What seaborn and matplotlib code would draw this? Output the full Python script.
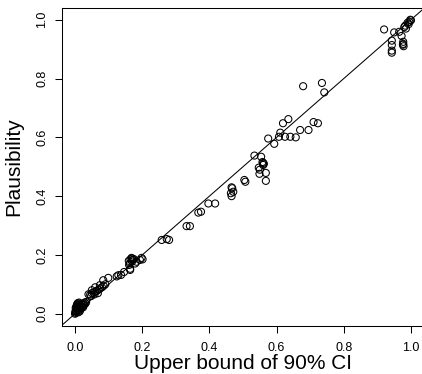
import matplotlib
matplotlib.use("Agg")
import matplotlib.pyplot as plt
import seaborn as sns
import pandas as pd

# Upper bound of 90% CI (x) and Plausibility (y)
upper_bound = [
    # dense cluster near zero
    0.000, 0.002, 0.004, 0.005, 0.006, 0.008, 0.010, 0.012, 0.003, 0.005,
    0.007, 0.009, 0.011, 0.013, 0.015, 0.017, 0.019, 0.021, 0.023, 0.025,
    0.027, 0.029, 0.031, 0.033, 0.002, 0.004, 0.006, 0.010, 0.014, 0.001,
    0.016, 0.020, 0.024, 0.008, 0.012,
    # low range
    0.040, 0.045, 0.050, 0.055, 0.060, 0.065, 0.070, 0.075, 0.080, 0.085,
    0.090, 0.050, 0.060, 0.074, 0.048, 0.058, 0.068,
    0.084, 0.099, 0.124, 0.129, 0.146, 0.137, 0.164, 0.164,
    0.160, 0.165, 0.168, 0.170, 0.172, 0.163, 0.161, 0.170, 0.175,
    0.183, 0.179, 0.193, 0.201, 0.198,
    0.258, 0.273, 0.280,
    0.332, 0.342,
    0.367, 0.375,
    0.397, 0.417,
    0.466, 0.471, 0.464, 0.466, 0.468,
    0.504, 0.507,
    0.534, 0.554,
    0.560, 0.560, 0.562, 0.558,
    0.547, 0.550,
    0.549, 0.568, 0.568,
    0.575, 0.593,
    0.607, 0.625, 0.641, 0.657,
    0.611, 0.619, 0.635,
    0.670, 0.695,
    0.710, 0.723,
    0.679, 0.735, 0.742,
    # upper range
    0.920, 0.950, 0.943, 0.943, 0.943, 0.943,
    0.965, 0.972, 0.977, 0.977, 0.978, 0.976,
    0.980, 0.983, 0.985, 0.990, 0.995, 1.000, 0.998, 0.993,
]

plausibility = [
    0.000, 0.003, 0.006, 0.010, 0.015, 0.020, 0.025, 0.030, 0.012, 0.020,
    0.028, 0.032, 0.012, 0.018, 0.022, 0.028, 0.033, 0.025, 0.030, 0.035,
    0.030, 0.038, 0.035, 0.040, 0.020, 0.025, 0.032, 0.005, 0.008, 0.008,
    0.015, 0.020, 0.022, 0.036, 0.038,
    0.066, 0.065, 0.070, 0.072, 0.075, 0.078, 0.082, 0.086, 0.090, 0.095,
    0.100, 0.080, 0.090, 0.097, 0.060, 0.066, 0.070,
    0.114, 0.122, 0.127, 0.131, 0.142, 0.132, 0.153, 0.149,
    0.180, 0.185, 0.190, 0.178, 0.183, 0.171, 0.166, 0.188, 0.186,
    0.177, 0.171, 0.183, 0.185, 0.190,
    0.251, 0.254, 0.251,
    0.298, 0.298,
    0.344, 0.347,
    0.375, 0.375,
    0.430, 0.415, 0.410, 0.400, 0.427,
    0.455, 0.449,
    0.538, 0.534,
    0.513, 0.506, 0.510, 0.516,
    0.497, 0.490,
    0.476, 0.479, 0.452,
    0.596, 0.578,
    0.602, 0.602, 0.602, 0.600,
    0.616, 0.648, 0.662,
    0.625, 0.625,
    0.652, 0.648,
    0.774, 0.785, 0.753,
    0.967, 0.957, 0.929, 0.914, 0.895, 0.888,
    0.959, 0.945, 0.925, 0.918, 0.910, 0.915,
    0.975, 0.980, 0.970, 0.990, 0.993, 0.998, 1.000, 0.985,
]

x_ticks = [0.0, 0.2, 0.4, 0.6, 0.8, 1.0]
y_ticks = [0.0, 0.2, 0.4, 0.6, 0.8, 1.0]
x_label = "Upper bound of 90% CI"
y_label = "Plausibility"

df = pd.DataFrame({"upper": upper_bound, "plaus": plausibility})

sns.set_style("white")
plt.rcParams["font.family"] = ["Liberation Sans", "DejaVu Sans"]

W, H = 422, 374
fig = plt.figure(figsize=(W / 100, H / 100), dpi=100)
left, right, top, bottom = 61.6, 424.4, 8.0, 325.5
ax = fig.add_axes([left / W, (H - bottom) / H, (right - left) / W, (bottom - top) / H])

sns.scatterplot(data=df, x="upper", y="plaus", ax=ax, s=26, marker="o",
                linewidth=0.75, legend=False)
coll = ax.collections[0]
coll.set_facecolor("none")
coll.set_edgecolor("black")
coll.set_linewidth(0.75)

ax.axline((0, 0), (1, 1), color="black", lw=0.75)

ax.set_xlim(-0.04, 1.04)
ax.set_ylim(-0.04, 1.04)
ax.set_xticks(x_ticks)
ax.set_yticks(y_ticks)
ax.set_xticklabels([f"{t:.1f}" for t in x_ticks])
ax.set_yticklabels([f"{t:.1f}" for t in y_ticks], rotation=90, va="center")

for side in ["left", "bottom", "top"]:
    ax.spines[side].set_visible(True)
    ax.spines[side].set_color("black")
    ax.spines[side].set_linewidth(0.75)
ax.spines["right"].set_visible(False)

ax.tick_params(axis="both", which="major", direction="out", length=5,
               width=0.75, color="black", labelsize=9, labelcolor="black",
               left=True, bottom=True)
ax.tick_params(axis="x", pad=7)
ax.tick_params(axis="y", pad=4.5)

ax.set_xlabel(x_label, fontsize=15, color="black", va="baseline")
ax.xaxis.set_label_coords(0.5, (bottom - 369) / (bottom - top))
ax.set_ylabel(y_label, fontsize=15, color="black", va="center")
ax.yaxis.set_label_coords((14 - left) / (right - left), 0.5)

fig.savefig("out.png", dpi=100)
